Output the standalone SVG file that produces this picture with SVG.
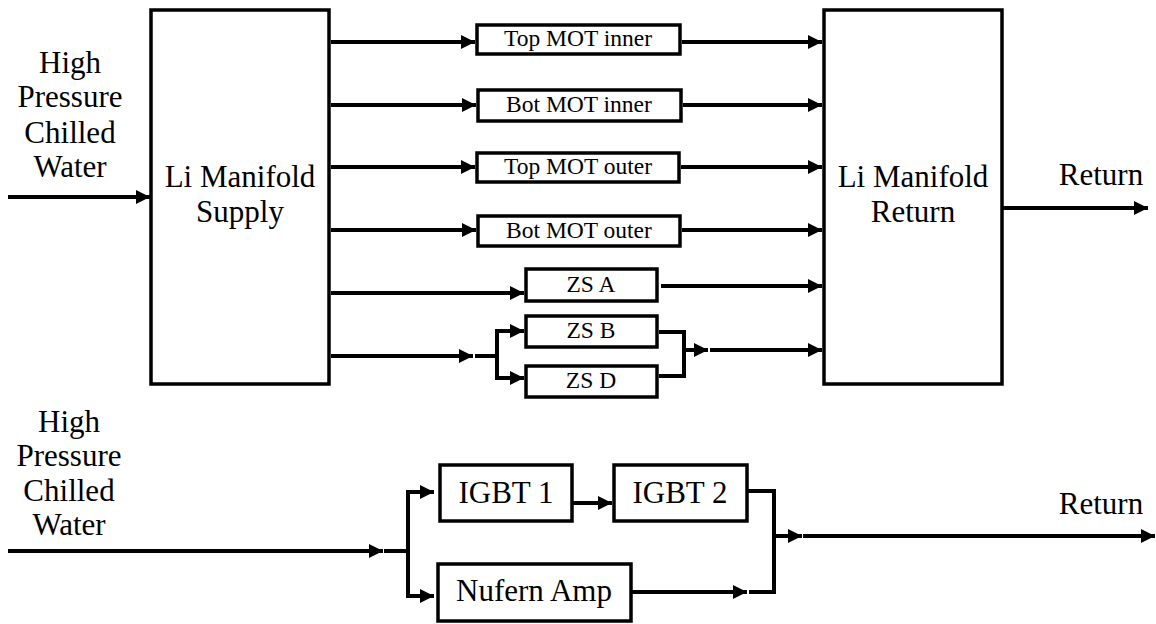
<svg xmlns="http://www.w3.org/2000/svg" width="1156" height="624" viewBox="0 0 1156 624" font-family="Liberation Serif, serif">
<style>
.box{fill:#fff;stroke:#000;stroke-width:3.5}
.ln{fill:none;stroke:#000;stroke-width:4;stroke-linejoin:miter;stroke-linecap:butt}
.arr{marker-end:url(#ah)}
.big{font-size:31px;text-anchor:middle;fill:#000}
.sm{font-size:23.5px;text-anchor:middle;fill:#000}
</style>
<defs>
<marker id="ah" markerUnits="userSpaceOnUse" markerWidth="14" markerHeight="14" refX="14" refY="7" orient="auto">
<path d="M0,0 L14,7 L0,14 z" fill="#000"/>
</marker>
</defs>
<rect width="1156" height="624" fill="#fff"/>

<g id="labels">
<text class="big" font-family="Liberation Serif, serif" x="70" y="73">High</text>
<text class="big" font-family="Liberation Serif, serif" x="70" y="107">Pressure</text>
<text class="big" font-family="Liberation Serif, serif" x="70" y="143">Chilled</text>
<text class="big" font-family="Liberation Serif, serif" x="70" y="177">Water</text>
<text class="big" font-family="Liberation Serif, serif" x="1101" y="185">Return</text>
<text class="big" font-family="Liberation Serif, serif" x="69" y="432">High</text>
<text class="big" font-family="Liberation Serif, serif" x="69" y="466">Pressure</text>
<text class="big" font-family="Liberation Serif, serif" x="69" y="501">Chilled</text>
<text class="big" font-family="Liberation Serif, serif" x="69" y="535">Water</text>
<text class="big" font-family="Liberation Serif, serif" x="1101" y="514">Return</text>
</g>

<g id="supply">
<rect class="box" x="151" y="10" width="178" height="374"/>
<text class="big" font-family="Liberation Serif, serif" x="240" y="187">Li Manifold</text>
<text class="big" font-family="Liberation Serif, serif" x="240" y="222">Supply</text>
</g>
<g id="return">
<rect class="box" x="824" y="10" width="178" height="374"/>
<text class="big" font-family="Liberation Serif, serif" x="913" y="187">Li Manifold</text>
<text class="big" font-family="Liberation Serif, serif" x="913" y="222">Return</text>
</g>

<g id="top-mot-inner">
<rect class="box" x="477" y="25" width="203" height="29"/>
<text class="sm" font-family="Liberation Serif, serif" x="578" y="46">Top MOT inner</text>
</g>
<g id="bot-mot-inner">
<rect class="box" x="478" y="90" width="203" height="31"/>
<text class="sm" font-family="Liberation Serif, serif" x="579" y="112">Bot MOT inner</text>
</g>
<g id="top-mot-outer">
<rect class="box" x="477" y="153" width="202" height="29"/>
<text class="sm" font-family="Liberation Serif, serif" x="578" y="174">Top MOT outer</text>
</g>
<g id="bot-mot-outer">
<rect class="box" x="478" y="216" width="202" height="30"/>
<text class="sm" font-family="Liberation Serif, serif" x="579" y="238">Bot MOT outer</text>
</g>
<g id="zs-a">
<rect class="box" x="526" y="269" width="131" height="32"/>
<text class="sm" font-family="Liberation Serif, serif" x="591" y="292">ZS A</text>
</g>
<g id="zs-b">
<rect class="box" x="526" y="316" width="131" height="31"/>
<text class="sm" font-family="Liberation Serif, serif" x="591" y="338">ZS B</text>
</g>
<g id="zs-d">
<rect class="box" x="526" y="366" width="131" height="31"/>
<text class="sm" font-family="Liberation Serif, serif" x="591" y="388">ZS D</text>
</g>

<g id="igbt1">
<rect class="box" x="440" y="465" width="132" height="56"/>
<text class="big" font-family="Liberation Serif, serif" x="506" y="503">IGBT 1</text>
</g>
<g id="igbt2">
<rect class="box" x="614" y="465" width="133" height="56"/>
<text class="big" font-family="Liberation Serif, serif" x="680" y="503">IGBT 2</text>
</g>
<g id="nufern">
<rect class="box" x="438" y="564" width="193" height="57"/>
<text class="big" font-family="Liberation Serif, serif" x="534" y="601">Nufern Amp</text>
</g>

<g id="connectors">
<line class="ln arr" x1="8" y1="197" x2="150" y2="197"/>
<line class="ln arr" x1="331" y1="42" x2="475" y2="42"/>
<line class="ln arr" x1="331" y1="105" x2="476" y2="105"/>
<line class="ln arr" x1="331" y1="167" x2="475" y2="167"/>
<line class="ln arr" x1="331" y1="230" x2="476" y2="230"/>
<line class="ln arr" x1="331" y1="293" x2="524" y2="293"/>
<line class="ln arr" x1="331" y1="356" x2="473" y2="356"/>
<polyline class="ln" points="475,356 497,356"/>
<polyline class="ln arr" points="497,356 497,331 524,331"/>
<polyline class="ln arr" points="497,356 497,378 524,378"/>
<line class="ln arr" x1="682" y1="42" x2="822" y2="42"/>
<line class="ln arr" x1="683" y1="105" x2="822" y2="105"/>
<line class="ln arr" x1="681" y1="167" x2="822" y2="167"/>
<line class="ln arr" x1="682" y1="230" x2="822" y2="230"/>
<line class="ln arr" x1="661" y1="286" x2="822" y2="286"/>
<polyline class="ln" points="659,332 684,332 684,376 659,376"/>
<line class="ln arr" x1="684" y1="350" x2="708" y2="350"/>
<line class="ln arr" x1="710" y1="350" x2="822" y2="350"/>
<line class="ln arr" x1="1003" y1="208" x2="1148" y2="208"/>
<line class="ln arr" x1="8" y1="551" x2="383" y2="551"/>
<line class="ln" x1="384" y1="551" x2="408" y2="551"/>
<polyline class="ln arr" points="408,551 408,492 434,492"/>
<polyline class="ln arr" points="408,551 408,596 434,596"/>
<line class="ln arr" x1="573" y1="503" x2="612" y2="503"/>
<line class="ln arr" x1="632" y1="592" x2="747" y2="592"/>
<polyline class="ln" points="749,592 774,592 774,491 748,491"/>
<line class="ln arr" x1="774" y1="536" x2="802" y2="536"/>
<line class="ln arr" x1="803" y1="536" x2="1155" y2="536"/>
</g>
</svg>
